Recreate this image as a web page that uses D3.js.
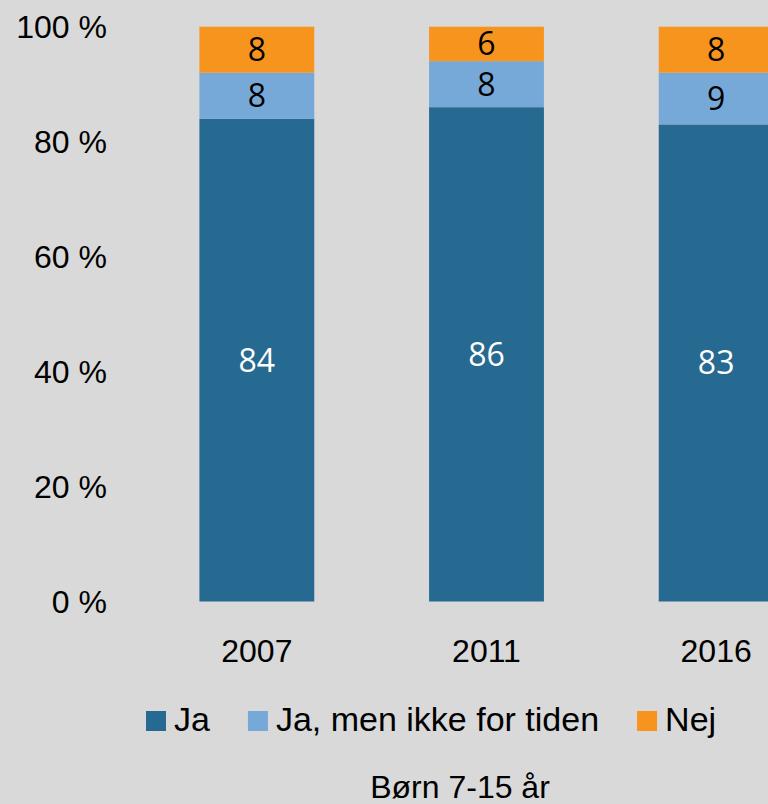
<!DOCTYPE html>
<html>
<head>
<meta charset="utf-8">
<script src="https://cdn.jsdelivr.net/npm/d3@7"></script>
<style>
html,body{margin:0;padding:0;background:#d9d9d9;overflow:hidden;}
svg{display:block;}
</style>
</head>
<body>
<svg id="chart" width="768" height="804"></svg>
<script>
const years = ["2007", "2011", "2016"];
const seriesNames = ["Ja", "Ja, men ikke for tiden", "Nej"];
const ja = [84, 86, 83];
const jaMen = [8, 8, 9];
const nej = [8, 6, 8];
const yTicks = [0, 20, 40, 60, 80, 100];
const title = "Børn 7-15 år";
const colors = ["#266991", "#77a9d8", "#f7941e"];
const labelColors = ["#ffffff", "#000000", "#000000"];

const svg = d3.select("#chart");
const W = 768, H = 804;
svg.append("rect").attr("width", W).attr("height", H).attr("fill", "#d9d9d9");

const tickFont = "'Liberation Sans', Arial, sans-serif";
const labelFont = "'Open Sans', 'Noto Sans', sans-serif";

const x = d3.scaleBand().domain(years).range([142, 831]).paddingInner(0.5).paddingOuter(0.25);
const y = d3.scaleLinear().domain([0, 100]).range([601.5, 26.7]);

const rows = years.map((yr, i) => ({ year: yr, s0: ja[i], s1: jaMen[i], s2: nej[i] }));
const stack = d3.stack().keys(["s0", "s1", "s2"]);
const layers = stack(rows);

// Y axis
const yAxis = d3.axisLeft(y).tickValues(yTicks).tickFormat(d => d + " %").tickSize(0).tickPadding(0);
const yg = svg.append("g").attr("transform", "translate(107,0)").call(yAxis);
yg.select(".domain").remove();
yg.selectAll("text").attr("font-family", tickFont).attr("font-size", 32).attr("fill", "#000").attr("dy", "0.35em");

// Bars
layers.forEach((layer, li) => {
  const g = svg.append("g");
  g.selectAll("rect").data(layer).enter().append("rect")
    .attr("x", d => x(d.data.year))
    .attr("width", x.bandwidth())
    .attr("y", d => y(d[1]))
    .attr("height", d => y(d[0]) - y(d[1]))
    .attr("fill", colors[li]);
  g.selectAll("text").data(layer).enter().append("text")
    .attr("x", d => x(d.data.year) + x.bandwidth() / 2)
    .attr("y", d => (y(d[0]) + y(d[1])) / 2)
    .attr("dy", "0.36em")
    .attr("text-anchor", "middle")
    .attr("font-family", labelFont)
    .attr("font-size", 32)
    .attr("fill", labelColors[li])
    .text(d => d[1] - d[0]);
});

// X axis
const xAxis = d3.axisBottom(x).tickSize(0).tickPadding(0);
const xg = svg.append("g").attr("transform", "translate(0,662)").call(xAxis);
xg.select(".domain").remove();
xg.selectAll("text").attr("font-family", tickFont).attr("font-size", 32).attr("fill", "#000").attr("dy", 0);

// Legend
let lx = 146;
const legend = svg.append("g");
seriesNames.forEach((name, i) => {
  legend.append("rect").attr("x", lx).attr("y", 711).attr("width", 20).attr("height", 20).attr("fill", colors[i]);
  const t = legend.append("text").attr("x", lx + 28).attr("y", 731)
    .attr("font-family", tickFont).attr("font-size", 34).attr("fill", "#000").text(name);
  lx += 28 + t.node().getComputedTextLength() + 38;
});

// Title
svg.append("text").attr("x", 460).attr("y", 798).attr("text-anchor", "middle")
  .attr("font-family", tickFont).attr("font-size", 32).attr("fill", "#000").text(title);
</script>
</body>
</html>
